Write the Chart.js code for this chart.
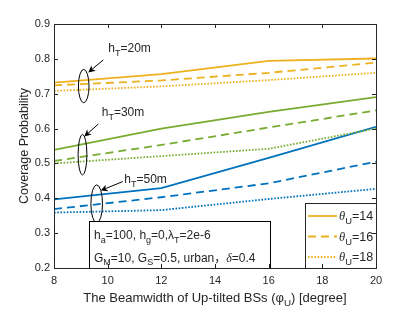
<!DOCTYPE html>
<html>
<head>
<meta charset="utf-8">
<script src="https://cdn.jsdelivr.net/npm/chart.js@4/dist/chart.umd.min.js"></script>
<style>
html,body{margin:0;padding:0;background:#fff;}
canvas{display:block;}
</style>
</head>
<body>
<canvas id="c" width="415" height="312"></canvas>
<script>
// ---- data ----
const beamwidths = [8, 12, 16, 20];
const xTicks = [8, 10, 12, 14, 16, 18, 20];
const yTicks = [0.2, 0.3, 0.4, 0.5, 0.6, 0.7, 0.8, 0.9];
// hT = 20 m
const h20_t14 = [0.732, 0.756, 0.794, 0.801];
const h20_t16 = [0.724, 0.738, 0.760, 0.789];
const h20_t18 = [0.708, 0.721, 0.739, 0.760];
// hT = 30 m
const h30_t14 = [0.539, 0.600, 0.648, 0.690];
const h30_t16 = [0.507, 0.553, 0.603, 0.652];
const h30_t18 = [0.500, 0.521, 0.542, 0.600];
// hT = 50 m
const h50_t14 = [0.397, 0.429, 0.516, 0.605];
const h50_t16 = [0.369, 0.403, 0.443, 0.505];
const h50_t18 = [0.359, 0.366, 0.398, 0.427];
const legendLabels = ['14', '16', '18'];

const YELLOW = '#EDB120', GREEN = '#77AC30', BLUE = '#0072BD';
const TXT = '#262626';
const SANS = '"Liberation Sans", Arial, "Noto Sans CJK SC", sans-serif';
const SERIF = '"Liberation Serif", "DejaVu Serif", serif';
const DASH = [8, 5], DOT = [1.6, 1.6];

function ds(arr, color, dash) {
  return {
    data: beamwidths.map((x, i) => ({x: x, y: arr[i]})),
    borderColor: color, borderWidth: 1.8, borderDash: dash,
    pointRadius: 0, tension: 0, fill: false, borderCapStyle: 'butt'
  };
}

// rich text: parts = [[text, kind]] kind: '' normal, 's' subscript, 'g' italic serif greek
function rich(ctx, x, y, parts, size, align) {
  const fontFor = k => k === 's' ? (size * 0.75) + 'px ' + SANS :
                      k === 'g' ? 'italic ' + size + 'px ' + SERIF : size + 'px ' + SANS;
  let w = 0;
  parts.forEach(p => { ctx.font = fontFor(p[1]); w += ctx.measureText(p[0]).width; });
  let cx = align === 'center' ? x - w / 2 : x;
  ctx.textAlign = 'left';
  ctx.textBaseline = 'alphabetic';
  ctx.fillStyle = TXT;
  parts.forEach(p => {
    ctx.font = fontFor(p[1]);
    const dy = p[1] === 's' ? size * 0.33 : 0;
    ctx.fillText(p[0], cx, y + dy);
    cx += ctx.measureText(p[0]).width;
  });
}

function arrow(ctx, x1, y1, x2, y2) {
  const ang = Math.atan2(y2 - y1, x2 - x1);
  const L = 7, W = 3.5;
  ctx.strokeStyle = '#000'; ctx.fillStyle = '#000'; ctx.lineWidth = 1;
  ctx.setLineDash([]);
  ctx.beginPath();
  ctx.moveTo(x1, y1);
  ctx.lineTo(x2 - Math.cos(ang) * L * 0.7, y2 - Math.sin(ang) * L * 0.7);
  ctx.stroke();
  ctx.beginPath();
  ctx.moveTo(x2, y2);
  ctx.lineTo(x2 - Math.cos(ang) * L - Math.sin(ang) * W, y2 - Math.sin(ang) * L + Math.cos(ang) * W);
  ctx.lineTo(x2 - Math.cos(ang) * L * 0.7, y2 - Math.sin(ang) * L * 0.7);
  ctx.lineTo(x2 - Math.cos(ang) * L + Math.sin(ang) * W, y2 - Math.sin(ang) * L - Math.cos(ang) * W);
  ctx.closePath();
  ctx.fill();
}

// annotation anchors in data coordinates
const groupNotes = [
  {label: '20m', ell: [9.107, 0.722], rx: 5.3, ry: 16.7, from: [9.837, 0.797], to: [9.278, 0.761], text: [10.024, 0.819]},
  {label: '30m', ell: [9.062, 0.525], rx: 4.4, ry: 20.3, from: [9.651, 0.613], to: [9.129, 0.577], text: [9.778, 0.637]},
  {label: '50m', ell: [9.591, 0.384], rx: 5.8, ry: 19, from: [10.560, 0.448], to: [9.740, 0.422], text: [10.620, 0.443]}
];

const decor = {
  id: 'decor',
  afterDraw(chart) {
    const ctx = chart.ctx, xs = chart.scales.x, ys = chart.scales.y, a = chart.chartArea;
    const px = v => xs.getPixelForValue(v), py = v => ys.getPixelForValue(v);
    ctx.save();
    // annotations
    groupNotes.forEach(n => {
      ctx.strokeStyle = '#000'; ctx.lineWidth = 1; ctx.setLineDash([]);
      ctx.beginPath();
      ctx.ellipse(px(n.ell[0]), py(n.ell[1]), n.rx, n.ry, 0, 0, Math.PI * 2);
      ctx.stroke();
      arrow(ctx, px(n.from[0]), py(n.from[1]), px(n.to[0]), py(n.to[1]));
      rich(ctx, px(n.text[0]), py(n.text[1]), [['h', ''], ['T', 's'], ['=' + n.label, '']], 12, 'left');
    });
    // parameter box
    const bx = a.left + 35, by = a.bottom - 47, bw = 181, bh = 47;
    ctx.fillStyle = '#fff'; ctx.fillRect(bx, by, bw, bh);
    ctx.strokeStyle = '#000'; ctx.lineWidth = 1;
    ctx.strokeRect(bx + 0.5, by + 0.5, bw, bh);
    rich(ctx, bx + 5, by + 18, [['h', ''], ['a', 's'], ['=100, h', ''], ['g', 's'], ['=0,λ', ''], ['T', 's'], ['=2e-6', '']], 12, 'left');
    rich(ctx, bx + 5, by + 40.5, [['G', ''], ['M', 's'], ['=10, G', ''], ['S', 's'], ['=0.5, urban，', ''], ['δ', 'g'], ['=0.4', '']], 12, 'left');
    // legend box
    const lx = a.right - 71, ly = a.bottom - 65, lw = 71, lh = 65;
    ctx.fillStyle = '#fff'; ctx.fillRect(lx, ly, lw, lh);
    ctx.strokeStyle = TXT; ctx.strokeRect(lx + 0.5, ly + 0.5, lw, lh);
    const dashes = [[], DASH, DOT];
    legendLabels.forEach((lab, i) => {
      const yy = ly + 13 + i * 20.5;
      ctx.strokeStyle = YELLOW; ctx.lineWidth = 1.8; ctx.setLineDash(dashes[i]);
      ctx.beginPath(); ctx.moveTo(lx + 3, yy); ctx.lineTo(lx + 32, yy); ctx.stroke();
      ctx.setLineDash([]);
      rich(ctx, lx + 34, yy + 4, [['θ', 'g'], ['U', 's'], ['=' + lab, '']], 12.5, 'left');
    });
    // axes box and inward ticks
    ctx.setLineDash([]);
    ctx.strokeStyle = TXT; ctx.lineWidth = 1;
    ctx.strokeRect(Math.round(a.left) + 0.5, Math.round(a.top) + 0.5, Math.round(a.right - a.left), Math.round(a.bottom - a.top));
    ctx.beginPath();
    xTicks.forEach(v => {
      const x = Math.round(px(v)) + 0.5;
      ctx.moveTo(x, a.bottom); ctx.lineTo(x, a.bottom - 4);
      ctx.moveTo(x, a.top); ctx.lineTo(x, a.top + 4);
    });
    yTicks.forEach(v => {
      const y = Math.round(py(v)) + 0.5;
      ctx.moveTo(a.left, y); ctx.lineTo(a.left + 4, y);
      ctx.moveTo(a.right, y); ctx.lineTo(a.right - 4, y);
    });
    ctx.stroke();
    // x axis title
    rich(ctx, (a.left + a.right) / 2, 301.5,
      [['The Beamwidth of Up-tilted BSs (φ', ''], ['U', 's'], [') [degree]', '']], 13, 'center');
    ctx.restore();
  }
};

new Chart(document.getElementById('c'), {
  type: 'line',
  data: {
    datasets: [
      ds(h20_t14, YELLOW, []), ds(h20_t16, YELLOW, DASH), ds(h20_t18, YELLOW, DOT),
      ds(h30_t14, GREEN, []), ds(h30_t16, GREEN, DASH), ds(h30_t18, GREEN, DOT),
      ds(h50_t14, BLUE, []), ds(h50_t16, BLUE, DASH), ds(h50_t18, BLUE, DOT)
    ]
  },
  options: {
    responsive: false,
    animation: false,
    devicePixelRatio: 1,
    layout: {padding: {top: 24, right: 39, left: 17, bottom: 7}},
    plugins: {legend: {display: false}, tooltip: {enabled: false}},
    scales: {
      x: {
        type: 'linear', min: 8, max: 20,
        afterBuildTicks: s => { s.ticks = xTicks.map(v => ({value: v})); },
        ticks: {color: TXT, font: {family: SANS, size: 11}, padding: 6, callback: v => String(v)},
        grid: {display: false, drawTicks: false},
        border: {display: false},
        afterFit: s => { s.height = 37; }
      },
      y: {
        type: 'linear', min: 0.2, max: 0.9,
        afterBuildTicks: s => { s.ticks = yTicks.map(v => ({value: v})); },
        ticks: {color: TXT, font: {family: SANS, size: 11}, padding: 4, callback: v => Number(v).toFixed(1)},
        grid: {display: false, drawTicks: false},
        border: {display: false},
        title: {display: true, text: 'Coverage Probability', color: TXT, font: {family: SANS, size: 12.5}, padding: 0},
        afterFit: s => { s.width = 37; }
      }
    }
  },
  plugins: [decor]
});
</script>
</body>
</html>
